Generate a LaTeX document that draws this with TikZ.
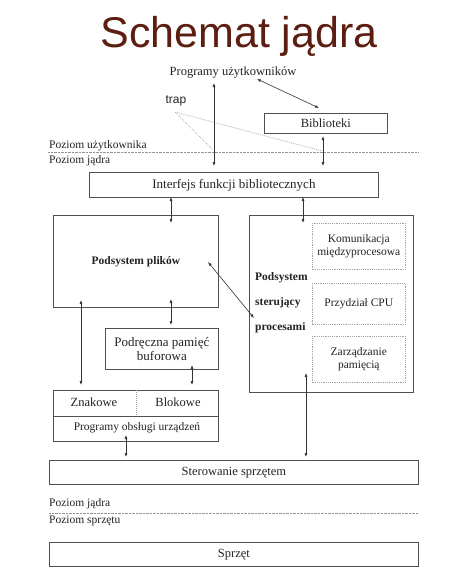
\documentclass[tikz,border=0pt]{standalone}
\usepackage{fontspec}
\setmainfont{Liberation Serif}
\newfontfamily\titlefont{Liberation Sans}
\usetikzlibrary{arrows.meta}
\definecolor{titlebrown}{RGB}{92,30,16}
\definecolor{linegray}{RGB}{80,80,80}
\definecolor{txt}{RGB}{35,35,35}
\begin{document}
\begin{tikzpicture}[x=1pt,y=-1pt,
  box/.style={draw=linegray, line width=0.8pt, inner sep=0pt, anchor=north west, text=txt},
  dbox/.style={draw=gray!70, dash pattern=on 1.2pt off 1pt, line width=0.6pt, inner sep=0pt, anchor=north west, align=center, text=txt, font=\fontsize{11.5}{13}\selectfont},
  lbl/.style={inner sep=0pt, text=txt},
  lev/.style={lbl, anchor=west, font=\fontsize{11.5}{13}\selectfont},
  arr/.style={{Latex[length=4pt,width=3pt]}-{Latex[length=4pt,width=3pt]}, draw=black!80, line width=0.6pt},
  lvline/.style={draw=gray!85, line width=1pt, dash pattern=on 0.8pt off 0.6pt},
  trapline/.style={draw=gray!70, line width=0.6pt, dash pattern=on 1pt off 1pt}]
\fill[white] (0,0) rectangle (463,574);
\useasboundingbox (0,0) rectangle (463,574);
% title
\node[inner sep=0pt, anchor=base, text=titlebrown, font=\titlefont\fontsize{43}{46}\selectfont] (title) at (239,47) {Schemat jądra};
% user level
\node[lbl, font=\fontsize{12.5}{14}\selectfont] (progs) at (233,72) {Programy użytkowników};
\node[lbl, font=\titlefont\fontsize{12}{14}\selectfont] (trap) at (176,101) {trap};
\node[box, minimum width=123pt, minimum height=20pt, font=\fontsize{12.5}{14}\selectfont] (bib) at (264,113) {Biblioteki};
\coordinate (ul1) at (48,152);
\coordinate (ul2) at (418,152);
\draw[lvline] (ul1) -- (ul2);
\node[lev] (pu) at (49,146) {Poziom użytkownika};
\node[lev] (pj) at (49,161) {Poziom jądra};
\coordinate (trapend) at (175,112);
\coordinate (tr1) at (213,150);
\coordinate (tr2) at (322,151);
\draw[trapline] (trapend) -- (tr1);
\draw[trapline] (trapend) -- (tr2);
% interface
\node[box, minimum width=289pt, minimum height=25pt, font=\fontsize{13}{15}\selectfont] (intf) at (89,172) {Interfejs funkcji bibliotecznych};
% file subsystem
\node[box, minimum width=165pt, minimum height=92pt, font=\bfseries\fontsize{11.5}{13}\selectfont] (files) at (53,215) {Podsystem plików};
% process subsystem
\node[box, minimum width=164pt, minimum height=177pt] (proc) at (249,215) {};
\node[lbl, anchor=west, font=\bfseries\fontsize{11.5}{13}\selectfont] (pt1) at (255,278) {Podsystem};
\node[lbl, anchor=west, font=\bfseries\fontsize{11.5}{13}\selectfont] (pt2) at (255,303) {sterujący};
\node[lbl, anchor=west, font=\bfseries\fontsize{11.5}{13}\selectfont] (pt3) at (255,328) {procesami};
\node[dbox, minimum width=93pt, minimum height=46pt] (ipc) at (312,223) {Komunikacja\\międzyprocesowa};
\node[dbox, minimum width=93pt, minimum height=41pt] (cpu) at (312,283) {Przydział CPU};
\node[dbox, minimum width=93pt, minimum height=46pt] (mem) at (312,336) {Zarządzanie\\pamięcią};
% buffer cache
\node[box, minimum width=113pt, minimum height=41pt, align=center, font=\fontsize{13}{14}\selectfont] (buf) at (105,328) {Podręczna pamięć\\buforowa};
% drivers
\node[box, minimum width=165pt, minimum height=51pt] (drv) at (53,390) {};
\coordinate (dv1) at (53,416);
\coordinate (dv2) at (218,416);
\draw[draw=linegray, line width=0.8pt] (dv1) -- (dv2);
\coordinate (dd1) at (136,390);
\coordinate (dd2) at (136,416);
\draw[draw=gray!70, line width=0.6pt, dash pattern=on 1pt off 1pt] (dd1) -- (dd2);
\node[lbl, font=\fontsize{12.5}{14}\selectfont] (znak) at (94,402) {Znakowe};
\node[lbl, font=\fontsize{12.5}{14}\selectfont] (blok) at (178,402) {Blokowe};
\node[lbl, font=\fontsize{11.5}{13}\selectfont] (obs) at (137,428) {Programy obsługi urządzeń};
% hardware control
\node[box, minimum width=369pt, minimum height=24pt, font=\fontsize{12.5}{14}\selectfont] (ster) at (49,460) {Sterowanie sprzętem};
\node[lev] (pj2) at (49,504) {Poziom jądra};
\coordinate (hl1) at (49,513);
\coordinate (hl2) at (418,513);
\draw[lvline] (hl1) -- (hl2);
\node[lev] (ps) at (49,521) {Poziom sprzętu};
\node[box, minimum width=369pt, minimum height=24pt, font=\fontsize{12.5}{14}\selectfont] (hw) at (49,542) {Sprzęt};
% arrow end points
\coordinate (a1s) at (214,83);  \coordinate (a1e) at (214,166);
\coordinate (a2s) at (257,79);  \coordinate (a2e) at (319,108);
\coordinate (a3s) at (323,136); \coordinate (a3e) at (323,166);
\coordinate (a4s) at (171,197); \coordinate (a4e) at (171,223);
\coordinate (a5s) at (303,197); \coordinate (a5e) at (303,223);
\coordinate (a6s) at (208,262); \coordinate (a6e) at (254,318);
\coordinate (a7s) at (171,299); \coordinate (a7e) at (171,325);
\coordinate (a8s) at (81,300);  \coordinate (a8e) at (81,385);
\coordinate (a9s) at (192,365); \coordinate (a9e) at (192,385);
\coordinate (a10s) at (126,435); \coordinate (a10e) at (126,457);
\coordinate (a11s) at (306,373); \coordinate (a11e) at (306,457);
\draw[arr] (a1s) -- (a1e);
\draw[arr] (a2s) -- (a2e);
\draw[arr] (a3s) -- (a3e);
\draw[arr] (a4s) -- (a4e);
\draw[arr] (a5s) -- (a5e);
\draw[arr] (a6s) -- (a6e);
\draw[arr] (a7s) -- (a7e);
\draw[arr] (a8s) -- (a8e);
\draw[arr] (a9s) -- (a9e);
\draw[arr] (a10s) -- (a10e);
\draw[arr] (a11s) -- (a11e);
\end{tikzpicture}
\end{document}
